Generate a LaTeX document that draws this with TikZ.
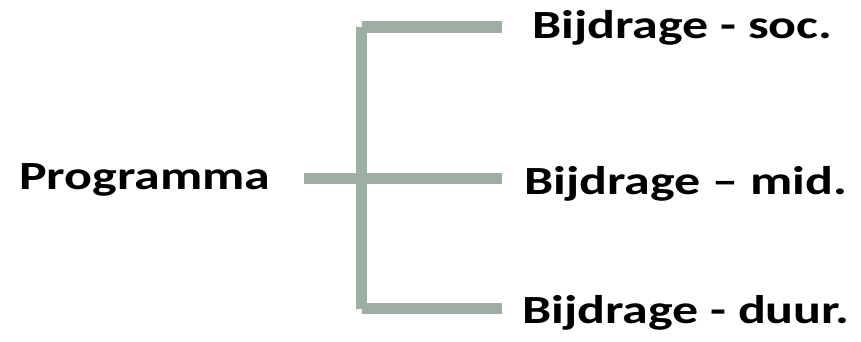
\documentclass[tikz,border=0pt]{standalone}
\usepackage{fontspec}
\setmainfont{Carlito}
\definecolor{branch}{HTML}{9DAEA2}
\begin{document}
\begin{tikzpicture}[x=1pt,y=-1pt,
  label/.style={anchor=base west,inner sep=0pt,font=\fontsize{40}{48}\selectfont\bfseries},
  bar/.style={draw=branch,line width=11.5pt,line cap=butt}]
  \useasboundingbox (0,0) rectangle (861,342);
  % labels
  \node[label,xscale=1.3] (prog) at (19,189.3) {Programma};
  \node[label,xscale=1.3] (soc)  at (532,39)   {Bijdrage - soc.};
  \node[label,xscale=1.3] (mid)  at (524,194.3){Bijdrage – mid.};
  \node[label,xscale=1.3] (duur) at (522,323.7){Bijdrage - duur.};
  % bracket points
  \coordinate (in)  at (304,178.7);
  \coordinate (top) at (361.5,27);
  \coordinate (jn)  at (361.5,178.7);
  \coordinate (bot) at (361.5,309);
  \coordinate (e1)  at (502,27);
  \coordinate (e2)  at (502,178.7);
  \coordinate (e3)  at (502,308.7);
  % bracket
  \draw[bar] (top) -- (bot);
  \draw[bar] (in) -- (e2);
  \draw[bar] (top) -- (e1);
  \draw[bar] (bot |- e3) -- (e3);
\end{tikzpicture}
\end{document}
